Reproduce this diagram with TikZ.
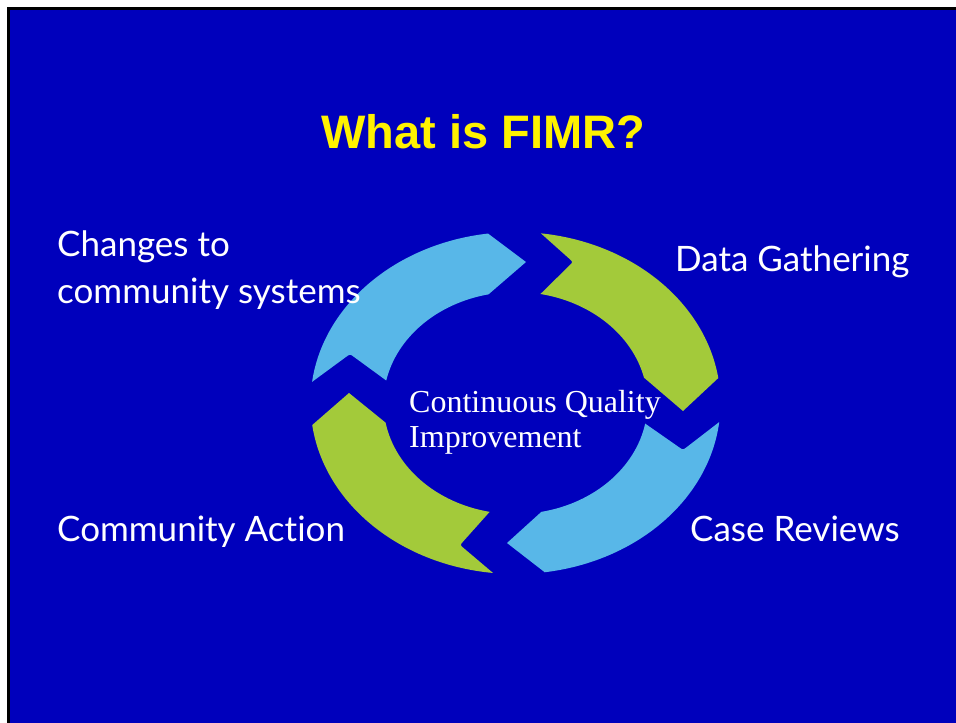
\documentclass[tikz,border=0pt]{standalone}
\usepackage{fontspec}
\setmainfont{Liberation Serif}
\newfontfamily\labelfont[Ligatures={NoCommon,NoRare,NoContextual}]{Lato}
\newfontfamily\titlefont{Liberation Sans}
\usetikzlibrary{calc}
\definecolor{bgblue}{RGB}{0,0,188}
\definecolor{ringblue}{RGB}{88,183,232}
\definecolor{ringgreen}{RGB}{163,202,58}
\begin{document}
\begin{tikzpicture}[x=1pt,y=1pt,
  lbl/.style={anchor=base west, text=white, inner sep=0pt, align=left,
    font=\labelfont\fontsize{35}{47}\selectfont},
  outerarc/.style={x radius=205pt, y radius=171pt},
  innerarc/.style={x radius=132pt, y radius=111pt}]
% page
\fill[white] (0,0) rectangle (956,-723);
\fill[black] (7,-7) rectangle (956,-723);
\fill[bgblue] (10,-10) rectangle (956,-723);
\useasboundingbox (0,0) rectangle (956,-723);
\coordinate (C) at (515.5,-403);
% top-left blue arrow
\fill[ringblue] ($(C)+(172.9:205pt and 171pt)$) coordinate (tlA)
  arc[start angle=172.9, end angle=97.7, outerarc]
  -- (526,-262)
  -- ($(C)+(101.8:132pt and 111pt)$)
  arc[start angle=101.8, end angle=168.3, innerarc] coordinate (tlB)
  -- ($(350,-354)!5pt!(tlB)$) .. controls (350,-354) .. ($(350,-354)!5pt!(tlA)$) -- cycle;
% top-right green arrow
\fill[ringgreen] ($(C)+(82.9:205pt and 171pt)$) coordinate (trA)
  arc[start angle=82.9, end angle=8.4, outerarc]
  -- (683,-411)
  -- ($(C)+(13.2:132pt and 111pt)$)
  arc[start angle=13.2, end angle=79.1, innerarc] coordinate (trB)
  -- ($(573,-262)!5pt!(trB)$) .. controls (573,-262) .. ($(573,-262)!5pt!(trA)$) -- cycle;
% bottom-right blue arrow
\fill[ringblue] ($(C)+(-6.4:205pt and 171pt)$) coordinate (brA)
  arc[start angle=-6.4, end angle=-81.8, outerarc]
  -- (507,-543)
  -- ($(C)+(-78.7:132pt and 111pt)$)
  arc[start angle=-78.7, end angle=-10.7, innerarc] coordinate (brB)
  -- ($(683,-450)!5pt!(brB)$) .. controls (683,-450) .. ($(683,-450)!5pt!(brA)$) -- cycle;
% bottom-left green arrow
\fill[ringgreen] ($(C)+(263.7:205pt and 171pt)$) coordinate (blA)
  arc[start angle=263.7, end angle=187.4, outerarc]
  -- (349,-393)
  -- ($(C)+(190.2:132pt and 111pt)$)
  arc[start angle=190.2, end angle=258.7, innerarc] coordinate (blB)
  -- ($(460,-545)!5pt!(blB)$) .. controls (460,-545) .. ($(460,-545)!5pt!(blA)$) -- cycle;
% texts
\node[anchor=base, text=yellow, inner sep=0pt,
  font=\titlefont\bfseries\fontsize{47}{47}\selectfont] (title) at (483.5,-148) {What is FIMR?};
\node[lbl] (chg) at (57,-303) {Changes to\\community systems};
\node[lbl] (data) at (675,-271) {Data Gathering};
\node[lbl] (act) at (57,-541) {Community Action};
\node[lbl] (case) at (690,-541) {Case Reviews};
\node[anchor=base west, text=white, align=left, inner sep=0pt,
  font=\fontsize{32}{35}\selectfont] (cqi) at (409,-447) {Continuous Quality\\Improvement};
\end{tikzpicture}
\end{document}
